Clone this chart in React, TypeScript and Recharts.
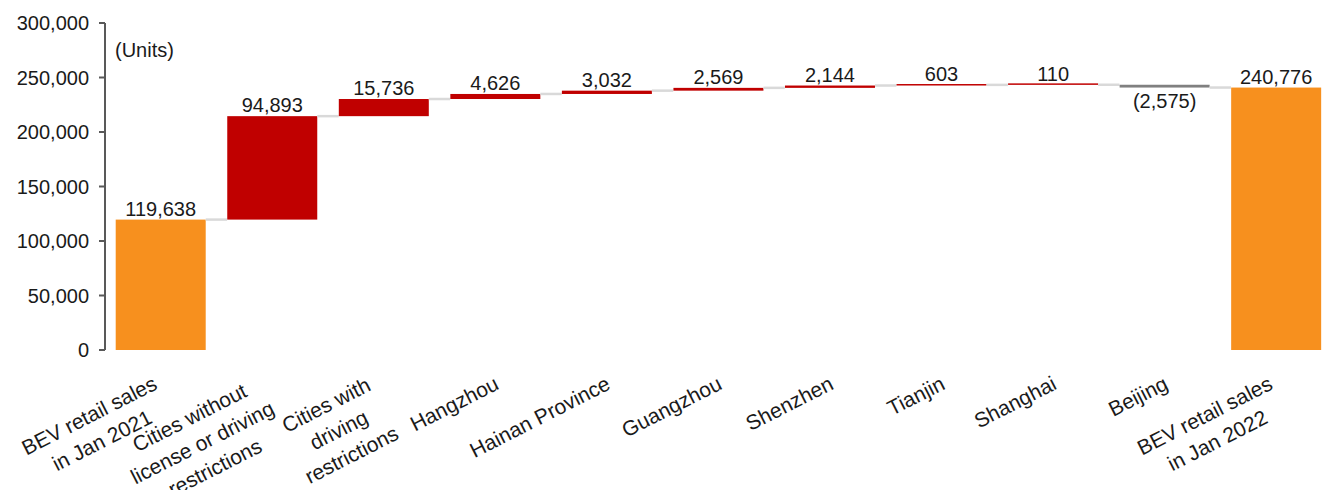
import React from "react";
import { BarChart, Bar, XAxis, YAxis, LabelList } from "recharts";

const categories = [
  "BEV retail sales\nin Jan 2021",
  "Cities without\nlicense or driving\nrestrictions",
  "Cities with\ndriving\nrestrictions",
  "Hangzhou",
  "Hainan Province",
  "Guangzhou",
  "Shenzhen",
  "Tianjin",
  "Shanghai",
  "Beijing",
  "BEV retail sales\nin Jan 2022",
];
const startTotal = 119638;
const deltas = [94893, 15736, 4626, 3032, 2569, 2144, 603, 110, -2575];
const endTotal = 240776;
const yTicks = [0, 50000, 100000, 150000, 200000, 250000, 300000];
const boundaryTicks = [0, 1, 2, 3, 4, 5, 6, 7, 8, 9, 10, 11];

const FONT = "'Liberation Sans', Arial, sans-serif";
const FS = 20;
const FSX = 21;
const ORANGE = "#F7901E";
const RED = "#C00000";
const GREY = "#808080";
const CONNECTOR = "#D9D9D9";
const TEXT = "#1a1a1a";
const AXIS = "#595959";
const GAP_PCT = 0.096;

type Row = { name: string; base: number; value: number; kind: string; total: number; last: boolean; label: string };

const fmt = (v: number) => v.toLocaleString("en-US");

const data: Row[] = (() => {
  const rows: Row[] = [];
  rows.push({ name: categories[0], base: 0, value: startTotal, kind: "total", total: startTotal, last: false, label: fmt(startTotal) });
  let run = startTotal;
  deltas.forEach((d, i) => {
    const next = run + d;
    rows.push({
      name: categories[i + 1],
      base: Math.min(run, next),
      value: Math.abs(d),
      kind: d >= 0 ? "up" : "down",
      total: next,
      last: false,
      label: d >= 0 ? fmt(d) : `(${fmt(-d)})`,
    });
    run = next;
  });
  rows.push({ name: categories[categories.length - 1], base: 0, value: endTotal, kind: "total", total: endTotal, last: true, label: fmt(endTotal) });
  return rows;
})();

let ctx: CanvasRenderingContext2D | null = null;
const measure = (s: string) => {
  if (!ctx && typeof document !== "undefined") {
    ctx = document.createElement("canvas").getContext("2d");
  }
  if (ctx) {
    ctx.font = `${FSX}px 'Liberation Sans', Arial, sans-serif`;
    return ctx.measureText(s).width;
  }
  return s.length * FSX * 0.5;
};

const WaterfallShape = (props: any) => {
  const { x, y, width, height, payload } = props;
  const fill = payload.kind === "total" ? ORANGE : payload.kind === "down" ? GREY : RED;
  const h = Math.max(height, 1.5);
  const gap = (width * 2 * GAP_PCT) / (1 - 2 * GAP_PCT);
  const levelY = payload.kind === "down" ? y + height : y;
  return (
    <g>
      <rect x={x} y={payload.kind === "total" ? y : y + height - h} width={width} height={h} fill={fill} />
      {!payload.last && (
        <line x1={x + width} x2={x + width + gap} y1={levelY} y2={levelY} stroke={CONNECTOR} strokeWidth={2.5} />
      )}
    </g>
  );
};

const renderLabel = (props: any) => {
  const { x, y, width, height, index } = props;
  const row = data[index];
  const cx = x + width / 2;
  const ty = row.kind === "down" ? y + height + 20 : y - 4;
  return (
    <text x={cx} y={ty} textAnchor="middle" fontSize={FS} fontFamily={FONT} fill={TEXT}>
      {row.label}
    </text>
  );
};

const CategoryTick = (props: any) => {
  const { x, y, payload } = props;
  const lines = String(payload.value).split("\n");
  const W = Math.max(...lines.map(measure));
  const lh = 28;
  const shift = -2 - 7 * (lines.length - 1);
  return (
    <g transform={`translate(${x + shift},${y + 17}) rotate(-27)`}>
      {lines.map((l, i) => (
        <text key={i} x={-W / 2} y={15 + i * lh} textAnchor="middle" fontSize={FSX} fontFamily={FONT} fill={TEXT}>
          {l}
        </text>
      ))}
    </g>
  );
};

const ValueTick = (props: any) => {
  const { x, y, payload } = props;
  return (
    <text x={x} y={y} dy="0.36em" textAnchor="end" fontSize={FS} fontFamily={FONT} fill={TEXT}>
      {fmt(payload.value)}
    </text>
  );
};

export default function App() {
  return (
    <div style={{ position: "absolute", left: 0, top: 0, width: 1326, height: 490, overflow: "hidden", background: "#fff" }}>
      <BarChart
        width={1332}
        height={490}
        data={data}
        margin={{ top: 23, right: 0, left: 0, bottom: 0 }}
        barCategoryGap={`${GAP_PCT * 100}%`}
      >
        <XAxis
          xAxisId="b"
          type="number"
          domain={[0, 11]}
          ticks={boundaryTicks}
          allowDataOverflow
          tick={false}
          height={0}
          tickSize={7}
          axisLine={{ stroke: AXIS, strokeWidth: 2 }}
          tickLine={{ stroke: AXIS, strokeWidth: 2 }}
        />
        <XAxis
          xAxisId="cat"
          dataKey="name"
          type="category"
          interval={0}
          height={140}
          axisLine={false}
          tickLine={false}
          tick={<CategoryTick />}
        />
        <YAxis
          domain={[0, 300000]}
          ticks={yTicks}
          width={105}
          tickSize={6}
          tickMargin={10}
          tick={<ValueTick />}
          axisLine={{ stroke: AXIS, strokeWidth: 2 }}
          tickLine={{ stroke: AXIS, strokeWidth: 2 }}
        />
        <Bar xAxisId="cat" dataKey="base" stackId="w" fill="transparent" isAnimationActive={false} />
        <Bar xAxisId="cat" dataKey="value" stackId="w" shape={<WaterfallShape />} isAnimationActive={false}>
          <LabelList dataKey="value" content={renderLabel} />
        </Bar>
      </BarChart>
      <div style={{ position: "absolute", left: 115, top: 40, fontSize: FS, fontFamily: FONT, color: TEXT, lineHeight: "20px" }}>
        (Units)
      </div>
    </div>
  );
}
